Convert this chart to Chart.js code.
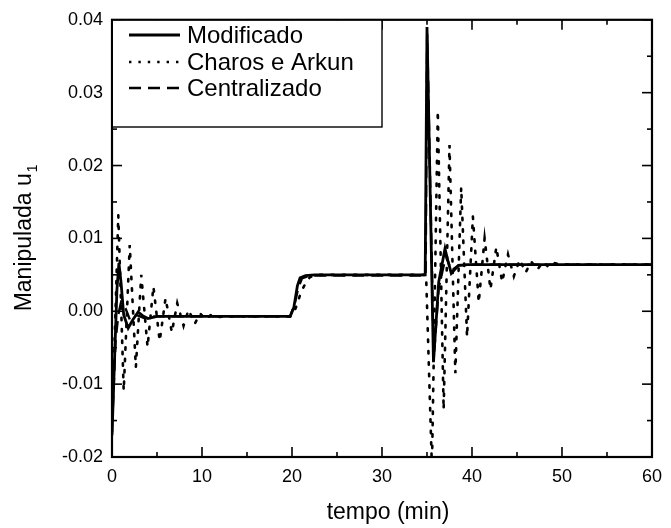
<!DOCTYPE html>
<html>
<head>
<meta charset="utf-8">
<script src="https://cdn.jsdelivr.net/npm/chart.js@4/dist/chart.umd.min.js"></script>
<style>
html,body{margin:0;padding:0;background:#fff;}
#wrap{width:671px;height:528px;position:relative;}
</style>
</head>
<body>
<div id="wrap"><canvas id="c" width="671" height="528"></canvas></div>
<script>
// ---- data ----
const seriesNames = ["Modificado", "Charos e Arkun", "Centralizado"];

const tMod = [0, 0.3, 0.55, 0.77, 1.0, 1.3, 1.8, 2.3, 2.9, 3.4, 4.0, 5.0, 19.8, 20.2, 20.6, 20.9, 21.5, 22.5, 34.8, 35.0, 35.72, 36.3, 37.0, 37.35, 37.7, 38.5, 39.5, 60];
const uMod = [-0.0170, -0.0060, 0.0030, 0.0066, 0.0040, -0.0005, -0.0023, -0.0012, -0.0001, -0.0006, -0.0010, -0.0007, -0.0007, 0.0005, 0.0035, 0.0046, 0.0049, 0.0050, 0.0050, 0.0390, -0.0070, 0.0040, 0.0086, 0.0068, 0.0052, 0.0063, 0.0064, 0.0064];

const tCha = [0, 0.7, 1.3, 1.97, 2.65, 3.25, 3.95, 4.6, 5.3, 5.95, 6.65, 7.25, 7.95, 8.5, 9.2, 9.8, 10.4, 11.0, 11.7, 12.5, 19.8, 20.4, 21.0, 21.4, 22.0, 23.0, 34.9, 35.55, 36.2, 36.85, 37.5, 38.15, 38.8, 39.45, 40.1, 40.75, 41.4, 42.05, 42.7, 43.35, 44.0, 44.65, 45.3, 45.95, 46.6, 47.25, 47.9, 48.55, 49.2, 50, 60];
const uCha = [-0.0165, 0.0132, -0.0109, 0.0091, -0.0077, 0.0050, -0.0049, 0.0034, -0.0041, 0.0018, -0.0029, 0.0011, -0.0020, 0.0002, -0.0017, -0.0003, -0.0011, -0.0005, -0.0008, -0.0007, -0.0007, 0.0004, 0.0026, 0.0036, 0.0047, 0.0050, 0.0050, -0.0215, 0.0275, -0.0135, 0.0228, -0.0085, 0.0170, -0.0035, 0.0130, 0.0012, 0.0100, 0.0030, 0.0088, 0.0040, 0.0078, 0.0048, 0.0071, 0.0053, 0.0068, 0.0057, 0.0068, 0.0060, 0.0066, 0.0064, 0.0064];

const tCen = [0, 0.4, 0.7, 1.0, 1.5, 2.0, 2.7, 3.5, 5.0, 19.8, 20.3, 20.7, 21.1, 22.0, 34.85, 35.02, 35.75, 36.3, 37.1, 37.7, 38.5, 40.0, 60];
const uCen = [-0.0160, -0.0040, -0.0005, 0.0012, 0.0004, -0.0012, -0.0005, -0.0009, -0.0007, -0.0007, 0.0010, 0.0032, 0.0045, 0.0049, 0.0049, 0.0380, -0.0065, 0.0032, 0.0076, 0.0056, 0.0063, 0.0064, 0.0064];

const xTicks = [0, 10, 20, 30, 40, 50, 60];
const xMinor = [5, 15, 25, 35, 45, 55];
const yTicks = [-0.02, -0.01, 0.00, 0.01, 0.02, 0.03, 0.04];
const yMinor = [-0.015, -0.005, 0.005, 0.015, 0.025, 0.035];

const xTitle = "tempo (min)";
const yTitle = "Manipulada u";
const yTitleSub = "1";

const FONT = "'Liberation Sans', Arial, Helvetica, sans-serif";

function pts(ts, us) { return ts.map((t, i) => ({x: t, y: us[i]})); }

const styles = [
  {dash: [], width: 2.8},
  {dash: [2.4, 9], width: 2.6},
  {dash: [12, 7], width: 2.4}
];

const framePlugin = {
  id: 'frame',
  afterDatasetsDraw(chart) {
    const ctx = chart.ctx;
    const a = chart.chartArea;
    const xs = chart.scales.x, ys = chart.scales.y;
    ctx.save();
    ctx.strokeStyle = '#000';
    ctx.lineCap = 'butt';
    // ticks (inside, on all four sides)
    ctx.lineWidth = 1.6;
    const drawX = (v, len) => {
      const p = xs.getPixelForValue(v);
      ctx.beginPath(); ctx.moveTo(p, a.bottom); ctx.lineTo(p, a.bottom - len); ctx.stroke();
      ctx.beginPath(); ctx.moveTo(p, a.top); ctx.lineTo(p, a.top + len); ctx.stroke();
    };
    const drawY = (v, len) => {
      const p = ys.getPixelForValue(v);
      ctx.beginPath(); ctx.moveTo(a.left, p); ctx.lineTo(a.left + len, p); ctx.stroke();
      ctx.beginPath(); ctx.moveTo(a.right, p); ctx.lineTo(a.right - len, p); ctx.stroke();
    };
    xTicks.forEach(v => drawX(v, 10));
    xMinor.forEach(v => drawX(v, 5));
    yTicks.forEach(v => drawY(v, 10));
    yMinor.forEach(v => drawY(v, 5));
    // frame
    ctx.lineWidth = 2.2;
    ctx.strokeRect(a.left, a.top, a.right - a.left, a.bottom - a.top);

    // legend
    ctx.fillStyle = '#fff';
    const lx0 = a.left, ly0 = a.top, lx1 = 382, ly1 = 127;
    ctx.fillRect(lx0 + 1, ly0 + 1, lx1 - lx0 - 1, ly1 - ly0 - 1);
    ctx.lineWidth = 1.4;
    ctx.strokeRect(lx0, ly0, lx1 - lx0, ly1 - ly0);
    const rows = [35, 62, 88];
    ctx.font = '24px ' + FONT;
    ctx.textBaseline = 'middle';
    ctx.textAlign = 'left';
    ctx.fillStyle = '#000';
    rows.forEach((ry, i) => {
      ctx.save();
      ctx.lineWidth = styles[i].width;
      ctx.setLineDash(i === 1 ? [2.4, 7] : styles[i].dash);
      ctx.beginPath(); ctx.moveTo(129, ry); ctx.lineTo(180, ry); ctx.stroke();
      ctx.restore();
      ctx.fillText(seriesNames[i], 187, ry + 1);
    });

    // axis titles
    ctx.font = '23px ' + FONT;
    ctx.textAlign = 'center';
    ctx.textBaseline = 'middle';
    ctx.fillText(xTitle, (a.left + a.right) / 2 + 6, 513);

    ctx.translate(25, (a.top + a.bottom) / 2);
    ctx.rotate(-Math.PI / 2);
    ctx.font = '23px ' + FONT;
    const w1 = ctx.measureText(yTitle).width;
    ctx.font = '14px ' + FONT;
    const w2 = ctx.measureText(yTitleSub).width;
    const start = -(w1 + w2) / 2;
    ctx.textAlign = 'left';
    ctx.font = '23px ' + FONT;
    ctx.fillText(yTitle, start, 0);
    ctx.font = '14px ' + FONT;
    ctx.fillText(yTitleSub, start + w1 + 1, 8);
    ctx.restore();
  }
};

new Chart(document.getElementById('c'), {
  type: 'line',
  data: {
    datasets: [
      {label: seriesNames[0], data: pts(tMod, uMod), borderColor: '#000', borderWidth: styles[0].width, borderDash: styles[0].dash, pointRadius: 0, tension: 0, fill: false},
      {label: seriesNames[1], data: pts(tCha, uCha), borderColor: '#000', borderWidth: styles[1].width, borderDash: styles[1].dash, borderCapStyle: 'round', pointRadius: 0, tension: 0, fill: false},
      {label: seriesNames[2], data: pts(tCen, uCen), borderColor: '#000', borderWidth: styles[2].width, borderDash: styles[2].dash, pointRadius: 0, tension: 0, fill: false}
    ]
  },
  options: {
    responsive: false,
    animation: false,
    devicePixelRatio: 1,
    layout: {padding: {left: 0, right: 11, top: 15, bottom: 0}},
    plugins: {legend: {display: false}, tooltip: {enabled: false}},
    scales: {
      x: {
        type: 'linear', min: 0, max: 60,
        afterBuildTicks: s => { s.ticks = xTicks.map(v => ({value: v})); },
        afterFit: s => { s.height = 71; },
        grid: {display: false, drawTicks: false, tickLength: 0},
        border: {display: false},
        ticks: {color: '#000', font: {family: FONT, size: 18}, padding: 9, maxRotation: 0, callback: v => String(v)}
      },
      y: {
        type: 'linear', min: -0.02, max: 0.04,
        afterBuildTicks: s => { s.ticks = yTicks.map(v => ({value: v})); },
        afterFit: s => { s.width = 112; },
        grid: {display: false, drawTicks: false, tickLength: 0},
        border: {display: false},
        ticks: {color: '#000', font: {family: FONT, size: 18}, padding: 9, callback: v => Number(v).toFixed(2)}
      }
    }
  },
  plugins: [framePlugin]
});
</script>
</body>
</html>
